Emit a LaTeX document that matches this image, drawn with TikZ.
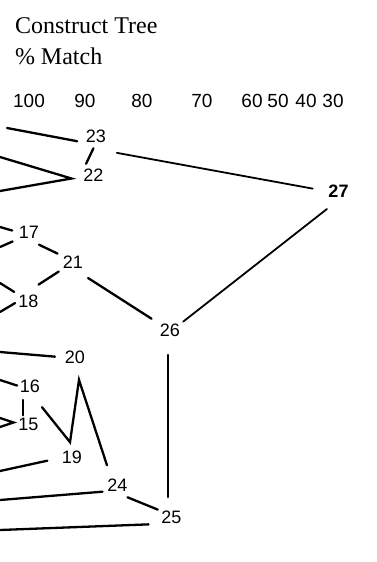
\documentclass[tikz,border=0pt]{standalone}
\usepackage{fontspec}
\setmainfont{Liberation Serif}
\setsansfont{Liberation Sans}
\usetikzlibrary{positioning}

\begin{document}
\begin{tikzpicture}[
      x=1pt, y=-1pt,
      every node/.style={inner sep=0pt, outer sep=0pt},
      title/.style={anchor=base west, font=\fontsize{24}{26}\selectfont},
      scalenum/.style={anchor=base, font=\sffamily\fontsize{19}{20}\selectfont},
      leaf/.style={font=\sffamily\fontsize{18}{18}\selectfont},
      link/.style={line width=2.3pt, line cap=round},
    ]
    \useasboundingbox (0,0) rectangle (376,562);

    % Heading
    \node[title] (ttl) at (15,33) {Construct Tree};
    \node[title] (pct) at (15,64) {\% Match};

    % Similarity scale along the top
    \foreach \v/\x in {100/29,90/85,80/142,70/202,60/252,50/278,40/306,30/333}
      \node[scalenum] (s\v) at (\x,107) {\v};

    % Cluster numbers
    \node[leaf] (n23) at (96,136.5)  {23};
    \node[leaf] (n22) at (93.5,175.5) {22};
    \node[leaf, font=\sffamily\bfseries\fontsize{18}{18}\selectfont] (n27) at (338.5,191.5) {27};
    \node[leaf] (n17) at (29,232.5)  {17};
    \node[leaf] (n21) at (73,262.5)  {21};
    \node[leaf] (n18) at (28.5,301)  {18};
    \node[leaf] (n26) at (170,330.5) {26};
    \node[leaf] (n20) at (75,357.5)  {20};
    \node[leaf] (n16) at (30,386.5)  {16};
    \node[leaf] (n15) at (28.5,424.5) {15};
    \node[leaf] (n19) at (72,457.5)  {19};
    \node[leaf] (n24) at (117.5,485) {24};
    \node[leaf] (n25) at (171.5,517.5) {25};

    % Loose ends at the left margin
    \coordinate (a23)  at (7,128);
    \coordinate (a22u) at (0,157);
    \coordinate (a22l) at (0,191);
    \coordinate (a17u) at (0,227);
    \coordinate (a17l) at (0,247);
    \coordinate (a18u) at (0,283);
    \coordinate (a18l) at (0,312);
    \coordinate (a20)  at (0,352);
    \coordinate (a16)  at (0,380);
    \coordinate (a15u) at (0,418);
    \coordinate (a15l) at (0,427);
    \coordinate (a19)  at (0,471);
    \coordinate (a24)  at (0,500);
    \coordinate (a25)  at (0,530);

    % Top group
    \draw[link, shorten >=9pt] (a23) -- (n23.south west);
    \draw[link] (a22u) -- ([xshift=-12pt,yshift=-3pt]n22.west) -- (a22l);
    \draw[link, shorten <=6pt, shorten >=6pt] (n23.south) -- (n22.north west);
    \draw[link, line width=1.8pt, shorten <=11pt, shorten >=16pt]
      ([yshift=-8pt]n23.south east) -- (n27.west);

    % Middle group
    \draw[link, shorten >=7pt] (a17u) -- (n17.west);
    \draw[link, shorten >=7pt] (a17l) -- (n17.south west);
    \draw[link, shorten >=5pt] (a18u) -- (n18.north west);
    \draw[link, shorten >=4pt] (a18l) -- (n18.west);
    \draw[link, shorten >=6pt] ([yshift=-6pt]n17.south east) -- (n21.north west);
    \draw[link, shorten >=5pt] ([yshift=10pt]n18.north east) -- (n21.south west);
    \draw[link, shorten <=6pt, shorten >=10pt]
      ([yshift=-6pt]n21.south east) -- (n26.north west);
    \draw[link, line width=1.8pt, shorten <=2pt, shorten >=4pt]
      ([yshift=-10pt]n27.south west) -- (n26.north east);

    % Lower group
    \draw[link, shorten >=10pt] (a20) -- (n20.west);
    \draw[link, shorten >=3pt] (a16) -- (n16.west);
    \draw[link, shorten <=7pt, shorten >=3pt]
      ([xshift=3pt]n16.south west) -- ([xshift=4.5pt]n15.north west);
    \draw[link] (a15u) -- ([xshift=-5pt,yshift=2pt]n15.west) -- (a15l);
    \draw[link, line join=miter]
      ([shift={(3.5pt,11pt)}]n15.north east) -- ([shift={(-2pt,9pt)}]n19.north)
      -- ([shift={(4pt,-16pt)}]n20.south) -- ([shift={(-0.5pt,13.5pt)}]n24.north west);
    \draw[link, shorten >=15pt] (a19) -- (n19.west);
    \draw[link, shorten >=5pt] (a24) -- (n24.south west);
    \draw[link, shorten >=4pt] ([yshift=-6pt]n24.south east) -- (n25.north west);
    \draw[link, shorten >=13pt] (a25) -- (n25.south west);
    \draw[link, shorten <=18pt, shorten >=14pt]
      ([xshift=-2pt]n26.south) -- ([xshift=-3.5pt]n25.north);
  \end{tikzpicture}
\end{document}
